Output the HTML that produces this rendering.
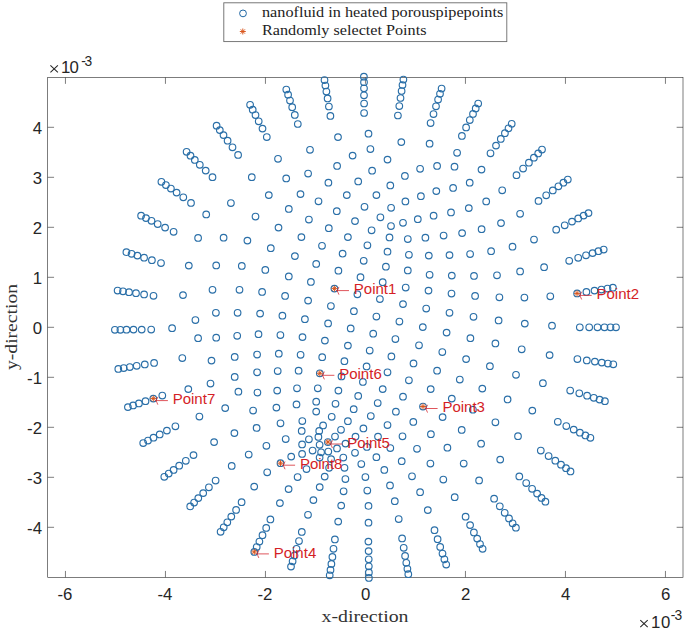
<!DOCTYPE html><html><head><meta charset="utf-8"><style>html,body{margin:0;padding:0;background:#fff;}svg{display:block}</style></head><body>
<svg width="685" height="631" viewBox="0 0 685 631">
<rect width="685" height="631" fill="#fff"/>
<g stroke="#262626" stroke-width="0.6" fill="none">
<rect x="47.7" y="77.5" width="635.3" height="499.79999999999995"/>
<line x1="65.45" y1="577.3" x2="65.45" y2="570.9499999999999"/><line x1="65.45" y1="77.5" x2="65.45" y2="83.85"/>
<line x1="165.45" y1="577.3" x2="165.45" y2="570.9499999999999"/><line x1="165.45" y1="77.5" x2="165.45" y2="83.85"/>
<line x1="265.45" y1="577.3" x2="265.45" y2="570.9499999999999"/><line x1="265.45" y1="77.5" x2="265.45" y2="83.85"/>
<line x1="365.45" y1="577.3" x2="365.45" y2="570.9499999999999"/><line x1="365.45" y1="77.5" x2="365.45" y2="83.85"/>
<line x1="465.45" y1="577.3" x2="465.45" y2="570.9499999999999"/><line x1="465.45" y1="77.5" x2="465.45" y2="83.85"/>
<line x1="565.45" y1="577.3" x2="565.45" y2="570.9499999999999"/><line x1="565.45" y1="77.5" x2="565.45" y2="83.85"/>
<line x1="665.45" y1="577.3" x2="665.45" y2="570.9499999999999"/><line x1="665.45" y1="77.5" x2="665.45" y2="83.85"/>
<line x1="47.7" y1="527.30" x2="54.050000000000004" y2="527.30"/><line x1="683.0" y1="527.30" x2="676.65" y2="527.30"/>
<line x1="47.7" y1="477.30" x2="54.050000000000004" y2="477.30"/><line x1="683.0" y1="477.30" x2="676.65" y2="477.30"/>
<line x1="47.7" y1="427.30" x2="54.050000000000004" y2="427.30"/><line x1="683.0" y1="427.30" x2="676.65" y2="427.30"/>
<line x1="47.7" y1="377.30" x2="54.050000000000004" y2="377.30"/><line x1="683.0" y1="377.30" x2="676.65" y2="377.30"/>
<line x1="47.7" y1="327.30" x2="54.050000000000004" y2="327.30"/><line x1="683.0" y1="327.30" x2="676.65" y2="327.30"/>
<line x1="47.7" y1="277.30" x2="54.050000000000004" y2="277.30"/><line x1="683.0" y1="277.30" x2="676.65" y2="277.30"/>
<line x1="47.7" y1="227.30" x2="54.050000000000004" y2="227.30"/><line x1="683.0" y1="227.30" x2="676.65" y2="227.30"/>
<line x1="47.7" y1="177.30" x2="54.050000000000004" y2="177.30"/><line x1="683.0" y1="177.30" x2="676.65" y2="177.30"/>
<line x1="47.7" y1="127.30" x2="54.050000000000004" y2="127.30"/><line x1="683.0" y1="127.30" x2="676.65" y2="127.30"/>
</g>
<g fill="none" stroke="#2a6fa8" stroke-width="1.15">
<circle cx="616.0" cy="327.3" r="3.3"/>
<circle cx="610.5" cy="327.3" r="3.3"/>
<circle cx="604.5" cy="327.3" r="3.3"/>
<circle cx="597.5" cy="327.3" r="3.3"/>
<circle cx="589.2" cy="327.3" r="3.3"/>
<circle cx="579.8" cy="327.3" r="3.3"/>
<circle cx="612.9" cy="287.7" r="3.3"/>
<circle cx="607.5" cy="288.5" r="3.3"/>
<circle cx="601.4" cy="289.5" r="3.3"/>
<circle cx="594.5" cy="290.6" r="3.3"/>
<circle cx="586.4" cy="291.9" r="3.3"/>
<circle cx="577.1" cy="293.4" r="3.3"/>
<circle cx="603.7" cy="249.5" r="3.3"/>
<circle cx="598.4" cy="251.2" r="3.3"/>
<circle cx="592.6" cy="253.1" r="3.3"/>
<circle cx="586.0" cy="255.3" r="3.3"/>
<circle cx="578.2" cy="257.8" r="3.3"/>
<circle cx="569.2" cy="260.8" r="3.3"/>
<circle cx="588.5" cy="213.1" r="3.3"/>
<circle cx="583.6" cy="215.6" r="3.3"/>
<circle cx="578.2" cy="218.4" r="3.3"/>
<circle cx="572.0" cy="221.6" r="3.3"/>
<circle cx="564.7" cy="225.3" r="3.3"/>
<circle cx="556.2" cy="229.7" r="3.3"/>
<circle cx="567.8" cy="179.5" r="3.3"/>
<circle cx="563.4" cy="182.7" r="3.3"/>
<circle cx="558.4" cy="186.3" r="3.3"/>
<circle cx="552.8" cy="190.4" r="3.3"/>
<circle cx="546.2" cy="195.3" r="3.3"/>
<circle cx="538.5" cy="200.9" r="3.3"/>
<circle cx="542.0" cy="149.5" r="3.3"/>
<circle cx="538.2" cy="153.4" r="3.3"/>
<circle cx="533.9" cy="157.7" r="3.3"/>
<circle cx="528.9" cy="162.7" r="3.3"/>
<circle cx="523.1" cy="168.5" r="3.3"/>
<circle cx="516.5" cy="175.2" r="3.3"/>
<circle cx="511.7" cy="123.8" r="3.3"/>
<circle cx="508.5" cy="128.3" r="3.3"/>
<circle cx="504.9" cy="133.2" r="3.3"/>
<circle cx="500.8" cy="138.9" r="3.3"/>
<circle cx="496.0" cy="145.6" r="3.3"/>
<circle cx="490.5" cy="153.3" r="3.3"/>
<circle cx="478.2" cy="103.5" r="3.3"/>
<circle cx="475.7" cy="108.4" r="3.3"/>
<circle cx="473.0" cy="113.9" r="3.3"/>
<circle cx="469.8" cy="120.1" r="3.3"/>
<circle cx="466.1" cy="127.4" r="3.3"/>
<circle cx="461.9" cy="135.9" r="3.3"/>
<circle cx="441.6" cy="88.6" r="3.3"/>
<circle cx="440.0" cy="93.8" r="3.3"/>
<circle cx="438.1" cy="99.6" r="3.3"/>
<circle cx="436.0" cy="106.3" r="3.3"/>
<circle cx="433.5" cy="114.1" r="3.3"/>
<circle cx="430.6" cy="123.1" r="3.3"/>
<circle cx="403.4" cy="79.6" r="3.3"/>
<circle cx="402.5" cy="85.0" r="3.3"/>
<circle cx="401.6" cy="91.0" r="3.3"/>
<circle cx="400.5" cy="98.0" r="3.3"/>
<circle cx="399.3" cy="106.1" r="3.3"/>
<circle cx="397.9" cy="115.5" r="3.3"/>
<circle cx="363.9" cy="76.7" r="3.3"/>
<circle cx="364.0" cy="82.2" r="3.3"/>
<circle cx="364.0" cy="88.3" r="3.3"/>
<circle cx="364.0" cy="95.3" r="3.3"/>
<circle cx="364.1" cy="103.5" r="3.3"/>
<circle cx="364.1" cy="113.0" r="3.3"/>
<circle cx="324.5" cy="80.1" r="3.3"/>
<circle cx="325.4" cy="85.5" r="3.3"/>
<circle cx="326.4" cy="91.5" r="3.3"/>
<circle cx="327.6" cy="98.4" r="3.3"/>
<circle cx="328.9" cy="106.5" r="3.3"/>
<circle cx="330.4" cy="115.9" r="3.3"/>
<circle cx="286.3" cy="89.5" r="3.3"/>
<circle cx="288.1" cy="94.7" r="3.3"/>
<circle cx="290.0" cy="100.5" r="3.3"/>
<circle cx="292.2" cy="107.2" r="3.3"/>
<circle cx="294.8" cy="114.9" r="3.3"/>
<circle cx="297.8" cy="124.0" r="3.3"/>
<circle cx="250.1" cy="104.8" r="3.3"/>
<circle cx="252.7" cy="109.7" r="3.3"/>
<circle cx="255.5" cy="115.1" r="3.3"/>
<circle cx="258.7" cy="121.3" r="3.3"/>
<circle cx="262.5" cy="128.6" r="3.3"/>
<circle cx="266.8" cy="137.0" r="3.3"/>
<circle cx="216.6" cy="125.7" r="3.3"/>
<circle cx="219.8" cy="130.1" r="3.3"/>
<circle cx="223.5" cy="135.1" r="3.3"/>
<circle cx="227.6" cy="140.7" r="3.3"/>
<circle cx="232.5" cy="147.3" r="3.3"/>
<circle cx="238.1" cy="154.9" r="3.3"/>
<circle cx="186.6" cy="151.8" r="3.3"/>
<circle cx="190.5" cy="155.7" r="3.3"/>
<circle cx="194.8" cy="159.9" r="3.3"/>
<circle cx="199.8" cy="164.8" r="3.3"/>
<circle cx="205.7" cy="170.6" r="3.3"/>
<circle cx="212.5" cy="177.2" r="3.3"/>
<circle cx="161.4" cy="181.8" r="3.3"/>
<circle cx="165.9" cy="185.0" r="3.3"/>
<circle cx="170.9" cy="188.5" r="3.3"/>
<circle cx="176.6" cy="192.6" r="3.3"/>
<circle cx="183.3" cy="197.3" r="3.3"/>
<circle cx="191.0" cy="202.9" r="3.3"/>
<circle cx="141.1" cy="215.7" r="3.3"/>
<circle cx="146.0" cy="218.1" r="3.3"/>
<circle cx="151.5" cy="220.8" r="3.3"/>
<circle cx="157.7" cy="224.0" r="3.3"/>
<circle cx="165.1" cy="227.6" r="3.3"/>
<circle cx="173.6" cy="231.8" r="3.3"/>
<circle cx="126.4" cy="252.2" r="3.3"/>
<circle cx="131.6" cy="253.8" r="3.3"/>
<circle cx="137.4" cy="255.6" r="3.3"/>
<circle cx="144.1" cy="257.7" r="3.3"/>
<circle cx="151.9" cy="260.2" r="3.3"/>
<circle cx="161.0" cy="263.0" r="3.3"/>
<circle cx="117.6" cy="290.5" r="3.3"/>
<circle cx="123.0" cy="291.3" r="3.3"/>
<circle cx="129.0" cy="292.2" r="3.3"/>
<circle cx="136.0" cy="293.2" r="3.3"/>
<circle cx="144.1" cy="294.4" r="3.3"/>
<circle cx="153.5" cy="295.8" r="3.3"/>
<circle cx="114.9" cy="329.8" r="3.3"/>
<circle cx="120.4" cy="329.8" r="3.3"/>
<circle cx="126.5" cy="329.7" r="3.3"/>
<circle cx="133.5" cy="329.6" r="3.3"/>
<circle cx="141.7" cy="329.6" r="3.3"/>
<circle cx="151.2" cy="329.5" r="3.3"/>
<circle cx="118.3" cy="368.9" r="3.3"/>
<circle cx="123.7" cy="368.0" r="3.3"/>
<circle cx="129.8" cy="367.0" r="3.3"/>
<circle cx="136.7" cy="365.8" r="3.3"/>
<circle cx="144.8" cy="364.4" r="3.3"/>
<circle cx="154.1" cy="362.9" r="3.3"/>
<circle cx="127.9" cy="407.1" r="3.3"/>
<circle cx="133.1" cy="405.4" r="3.3"/>
<circle cx="138.9" cy="403.4" r="3.3"/>
<circle cx="145.5" cy="401.2" r="3.3"/>
<circle cx="153.3" cy="398.6" r="3.3"/>
<circle cx="162.3" cy="395.5" r="3.3"/>
<circle cx="143.2" cy="443.0" r="3.3"/>
<circle cx="148.0" cy="440.5" r="3.3"/>
<circle cx="153.5" cy="437.7" r="3.3"/>
<circle cx="159.7" cy="434.4" r="3.3"/>
<circle cx="166.9" cy="430.6" r="3.3"/>
<circle cx="175.4" cy="426.3" r="3.3"/>
<circle cx="164.3" cy="476.8" r="3.3"/>
<circle cx="168.7" cy="473.5" r="3.3"/>
<circle cx="173.6" cy="469.9" r="3.3"/>
<circle cx="179.2" cy="465.7" r="3.3"/>
<circle cx="185.8" cy="460.8" r="3.3"/>
<circle cx="193.5" cy="455.1" r="3.3"/>
<circle cx="190.2" cy="506.4" r="3.3"/>
<circle cx="194.1" cy="502.5" r="3.3"/>
<circle cx="198.3" cy="498.1" r="3.3"/>
<circle cx="203.2" cy="493.1" r="3.3"/>
<circle cx="208.9" cy="487.3" r="3.3"/>
<circle cx="215.6" cy="480.5" r="3.3"/>
<circle cx="220.6" cy="531.8" r="3.3"/>
<circle cx="223.7" cy="527.3" r="3.3"/>
<circle cx="227.3" cy="522.3" r="3.3"/>
<circle cx="231.3" cy="516.6" r="3.3"/>
<circle cx="236.1" cy="509.9" r="3.3"/>
<circle cx="241.6" cy="502.2" r="3.3"/>
<circle cx="254.3" cy="551.9" r="3.3"/>
<circle cx="256.7" cy="547.0" r="3.3"/>
<circle cx="259.4" cy="541.5" r="3.3"/>
<circle cx="262.5" cy="535.2" r="3.3"/>
<circle cx="266.2" cy="527.9" r="3.3"/>
<circle cx="270.4" cy="519.4" r="3.3"/>
<circle cx="291.0" cy="566.6" r="3.3"/>
<circle cx="292.6" cy="561.3" r="3.3"/>
<circle cx="294.5" cy="555.5" r="3.3"/>
<circle cx="296.5" cy="548.8" r="3.3"/>
<circle cx="299.0" cy="541.0" r="3.3"/>
<circle cx="301.8" cy="531.9" r="3.3"/>
<circle cx="329.7" cy="575.3" r="3.3"/>
<circle cx="330.5" cy="569.9" r="3.3"/>
<circle cx="331.4" cy="563.9" r="3.3"/>
<circle cx="332.4" cy="556.9" r="3.3"/>
<circle cx="333.5" cy="548.8" r="3.3"/>
<circle cx="334.9" cy="539.4" r="3.3"/>
<circle cx="368.9" cy="577.9" r="3.3"/>
<circle cx="368.9" cy="572.4" r="3.3"/>
<circle cx="368.8" cy="566.3" r="3.3"/>
<circle cx="368.7" cy="559.3" r="3.3"/>
<circle cx="368.6" cy="551.1" r="3.3"/>
<circle cx="368.4" cy="541.6" r="3.3"/>
<circle cx="408.3" cy="574.2" r="3.3"/>
<circle cx="407.4" cy="568.8" r="3.3"/>
<circle cx="406.3" cy="562.8" r="3.3"/>
<circle cx="405.1" cy="555.9" r="3.3"/>
<circle cx="403.7" cy="547.8" r="3.3"/>
<circle cx="402.1" cy="538.4" r="3.3"/>
<circle cx="446.2" cy="564.5" r="3.3"/>
<circle cx="444.4" cy="559.3" r="3.3"/>
<circle cx="442.5" cy="553.5" r="3.3"/>
<circle cx="440.2" cy="546.9" r="3.3"/>
<circle cx="437.6" cy="539.2" r="3.3"/>
<circle cx="434.5" cy="530.2" r="3.3"/>
<circle cx="482.6" cy="548.8" r="3.3"/>
<circle cx="480.0" cy="544.0" r="3.3"/>
<circle cx="477.2" cy="538.6" r="3.3"/>
<circle cx="473.9" cy="532.4" r="3.3"/>
<circle cx="470.1" cy="525.1" r="3.3"/>
<circle cx="465.6" cy="516.7" r="3.3"/>
<circle cx="515.9" cy="527.7" r="3.3"/>
<circle cx="512.6" cy="523.3" r="3.3"/>
<circle cx="509.0" cy="518.4" r="3.3"/>
<circle cx="504.7" cy="512.8" r="3.3"/>
<circle cx="499.8" cy="506.3" r="3.3"/>
<circle cx="494.1" cy="498.7" r="3.3"/>
<circle cx="545.4" cy="501.7" r="3.3"/>
<circle cx="541.5" cy="497.9" r="3.3"/>
<circle cx="537.1" cy="493.6" r="3.3"/>
<circle cx="532.1" cy="488.8" r="3.3"/>
<circle cx="526.2" cy="483.0" r="3.3"/>
<circle cx="519.3" cy="476.4" r="3.3"/>
<circle cx="570.5" cy="471.4" r="3.3"/>
<circle cx="566.0" cy="468.2" r="3.3"/>
<circle cx="561.0" cy="464.7" r="3.3"/>
<circle cx="555.3" cy="460.7" r="3.3"/>
<circle cx="548.6" cy="456.0" r="3.3"/>
<circle cx="540.8" cy="450.5" r="3.3"/>
<circle cx="590.4" cy="437.8" r="3.3"/>
<circle cx="585.4" cy="435.4" r="3.3"/>
<circle cx="579.9" cy="432.7" r="3.3"/>
<circle cx="573.7" cy="429.6" r="3.3"/>
<circle cx="566.3" cy="426.0" r="3.3"/>
<circle cx="557.8" cy="421.8" r="3.3"/>
<circle cx="604.9" cy="401.2" r="3.3"/>
<circle cx="599.6" cy="399.6" r="3.3"/>
<circle cx="593.8" cy="397.8" r="3.3"/>
<circle cx="587.1" cy="395.7" r="3.3"/>
<circle cx="579.3" cy="393.3" r="3.3"/>
<circle cx="570.2" cy="390.5" r="3.3"/>
<circle cx="613.3" cy="364.3" r="3.3"/>
<circle cx="607.9" cy="363.5" r="3.3"/>
<circle cx="601.8" cy="362.6" r="3.3"/>
<circle cx="594.9" cy="361.6" r="3.3"/>
<circle cx="586.8" cy="360.4" r="3.3"/>
<circle cx="577.4" cy="359.0" r="3.3"/>
<circle cx="278.0" cy="158.8" r="3.3"/>
<circle cx="310.0" cy="149.8" r="3.3"/>
<circle cx="308.1" cy="173.5" r="3.3"/>
<circle cx="338.0" cy="137.1" r="3.3"/>
<circle cx="368.5" cy="133.7" r="3.3"/>
<circle cx="401.3" cy="142.1" r="3.3"/>
<circle cx="370.4" cy="149.0" r="3.3"/>
<circle cx="352.6" cy="155.6" r="3.3"/>
<circle cx="387.5" cy="159.6" r="3.3"/>
<circle cx="337.1" cy="165.9" r="3.3"/>
<circle cx="372.1" cy="170.7" r="3.3"/>
<circle cx="429.6" cy="143.7" r="3.3"/>
<circle cx="457.1" cy="152.8" r="3.3"/>
<circle cx="420.1" cy="168.8" r="3.3"/>
<circle cx="437.1" cy="165.9" r="3.3"/>
<circle cx="454.5" cy="166.7" r="3.3"/>
<circle cx="481.5" cy="169.6" r="3.3"/>
<circle cx="206.2" cy="214.4" r="3.3"/>
<circle cx="198.1" cy="237.9" r="3.3"/>
<circle cx="188.8" cy="265.6" r="3.3"/>
<circle cx="251.8" cy="177.2" r="3.3"/>
<circle cx="286.2" cy="178.4" r="3.3"/>
<circle cx="268.8" cy="195.1" r="3.3"/>
<circle cx="300.5" cy="194.1" r="3.3"/>
<circle cx="230.9" cy="203.0" r="3.3"/>
<circle cx="288.8" cy="208.9" r="3.3"/>
<circle cx="255.5" cy="216.5" r="3.3"/>
<circle cx="308.9" cy="219.5" r="3.3"/>
<circle cx="278.5" cy="227.6" r="3.3"/>
<circle cx="223.6" cy="237.7" r="3.3"/>
<circle cx="247.4" cy="240.6" r="3.3"/>
<circle cx="301.4" cy="237.1" r="3.3"/>
<circle cx="270.8" cy="248.2" r="3.3"/>
<circle cx="294.9" cy="256.1" r="3.3"/>
<circle cx="216.2" cy="265.4" r="3.3"/>
<circle cx="241.8" cy="265.9" r="3.3"/>
<circle cx="265.3" cy="269.9" r="3.3"/>
<circle cx="328.4" cy="182.7" r="3.3"/>
<circle cx="358.2" cy="181.4" r="3.3"/>
<circle cx="390.3" cy="185.4" r="3.3"/>
<circle cx="404.9" cy="175.9" r="3.3"/>
<circle cx="346.8" cy="195.1" r="3.3"/>
<circle cx="376.4" cy="195.1" r="3.3"/>
<circle cx="318.5" cy="201.3" r="3.3"/>
<circle cx="405.4" cy="201.4" r="3.3"/>
<circle cx="336.8" cy="211.2" r="3.3"/>
<circle cx="364.5" cy="206.8" r="3.3"/>
<circle cx="391.1" cy="207.8" r="3.3"/>
<circle cx="355.0" cy="221.1" r="3.3"/>
<circle cx="380.4" cy="217.3" r="3.3"/>
<circle cx="403.0" cy="222.8" r="3.3"/>
<circle cx="391.0" cy="226.0" r="3.3"/>
<circle cx="328.8" cy="228.2" r="3.3"/>
<circle cx="371.6" cy="230.3" r="3.3"/>
<circle cx="347.9" cy="237.1" r="3.3"/>
<circle cx="389.5" cy="237.4" r="3.3"/>
<circle cx="407.8" cy="239.0" r="3.3"/>
<circle cx="322.0" cy="245.8" r="3.3"/>
<circle cx="367.4" cy="245.3" r="3.3"/>
<circle cx="387.5" cy="251.7" r="3.3"/>
<circle cx="342.6" cy="253.7" r="3.3"/>
<circle cx="408.9" cy="254.8" r="3.3"/>
<circle cx="363.7" cy="260.8" r="3.3"/>
<circle cx="316.2" cy="263.9" r="3.3"/>
<circle cx="385.9" cy="266.7" r="3.3"/>
<circle cx="338.4" cy="270.7" r="3.3"/>
<circle cx="407.8" cy="270.4" r="3.3"/>
<circle cx="420.9" cy="196.2" r="3.3"/>
<circle cx="436.3" cy="191.1" r="3.3"/>
<circle cx="453.1" cy="187.9" r="3.3"/>
<circle cx="469.7" cy="182.7" r="3.3"/>
<circle cx="502.2" cy="190.3" r="3.3"/>
<circle cx="486.2" cy="201.4" r="3.3"/>
<circle cx="417.8" cy="219.2" r="3.3"/>
<circle cx="433.6" cy="215.7" r="3.3"/>
<circle cx="451.0" cy="212.4" r="3.3"/>
<circle cx="468.8" cy="208.1" r="3.3"/>
<circle cx="501.0" cy="223.1" r="3.3"/>
<circle cx="481.6" cy="229.2" r="3.3"/>
<circle cx="425.4" cy="237.7" r="3.3"/>
<circle cx="443.6" cy="235.5" r="3.3"/>
<circle cx="462.1" cy="233.1" r="3.3"/>
<circle cx="512.5" cy="246.7" r="3.3"/>
<circle cx="428.8" cy="255.6" r="3.3"/>
<circle cx="449.5" cy="255.1" r="3.3"/>
<circle cx="470.1" cy="254.0" r="3.3"/>
<circle cx="491.1" cy="251.2" r="3.3"/>
<circle cx="520.1" cy="213.8" r="3.3"/>
<circle cx="534.0" cy="239.5" r="3.3"/>
<circle cx="544.1" cy="267.2" r="3.3"/>
<circle cx="520.1" cy="271.4" r="3.3"/>
<circle cx="183.0" cy="295.1" r="3.3"/>
<circle cx="212.5" cy="289.8" r="3.3"/>
<circle cx="195.4" cy="320.0" r="3.3"/>
<circle cx="172.1" cy="328.2" r="3.3"/>
<circle cx="198.1" cy="338.2" r="3.3"/>
<circle cx="182.3" cy="358.0" r="3.3"/>
<circle cx="211.5" cy="360.6" r="3.3"/>
<circle cx="288.8" cy="276.4" r="3.3"/>
<circle cx="310.9" cy="281.9" r="3.3"/>
<circle cx="239.5" cy="289.8" r="3.3"/>
<circle cx="262.1" cy="291.9" r="3.3"/>
<circle cx="285.1" cy="295.9" r="3.3"/>
<circle cx="308.1" cy="300.6" r="3.3"/>
<circle cx="215.9" cy="312.8" r="3.3"/>
<circle cx="237.6" cy="312.8" r="3.3"/>
<circle cx="260.1" cy="313.6" r="3.3"/>
<circle cx="282.4" cy="315.7" r="3.3"/>
<circle cx="304.9" cy="319.2" r="3.3"/>
<circle cx="216.2" cy="337.7" r="3.3"/>
<circle cx="237.2" cy="335.8" r="3.3"/>
<circle cx="258.5" cy="334.2" r="3.3"/>
<circle cx="280.4" cy="335.0" r="3.3"/>
<circle cx="302.5" cy="337.1" r="3.3"/>
<circle cx="234.7" cy="356.9" r="3.3"/>
<circle cx="257.1" cy="354.5" r="3.3"/>
<circle cx="278.8" cy="353.7" r="3.3"/>
<circle cx="300.6" cy="354.8" r="3.3"/>
<circle cx="257.1" cy="372.3" r="3.3"/>
<circle cx="277.7" cy="371.0" r="3.3"/>
<circle cx="298.6" cy="370.7" r="3.3"/>
<circle cx="360.5" cy="277.2" r="3.3"/>
<circle cx="382.7" cy="282.2" r="3.3"/>
<circle cx="405.7" cy="287.5" r="3.3"/>
<circle cx="334.4" cy="288.6" r="3.3"/>
<circle cx="357.4" cy="294.3" r="3.3"/>
<circle cx="379.9" cy="299.0" r="3.3"/>
<circle cx="403.0" cy="304.1" r="3.3"/>
<circle cx="330.9" cy="306.0" r="3.3"/>
<circle cx="353.9" cy="311.2" r="3.3"/>
<circle cx="376.4" cy="316.5" r="3.3"/>
<circle cx="399.4" cy="321.5" r="3.3"/>
<circle cx="328.1" cy="323.4" r="3.3"/>
<circle cx="350.7" cy="328.4" r="3.3"/>
<circle cx="373.2" cy="333.7" r="3.3"/>
<circle cx="395.4" cy="339.0" r="3.3"/>
<circle cx="324.9" cy="340.6" r="3.3"/>
<circle cx="347.9" cy="345.6" r="3.3"/>
<circle cx="369.7" cy="350.5" r="3.3"/>
<circle cx="391.4" cy="356.4" r="3.3"/>
<circle cx="322.2" cy="357.2" r="3.3"/>
<circle cx="344.4" cy="361.2" r="3.3"/>
<circle cx="366.6" cy="366.4" r="3.3"/>
<circle cx="387.5" cy="372.3" r="3.3"/>
<circle cx="413.5" cy="363.4" r="3.3"/>
<circle cx="429.6" cy="274.8" r="3.3"/>
<circle cx="451.8" cy="275.6" r="3.3"/>
<circle cx="474.0" cy="275.9" r="3.3"/>
<circle cx="497.0" cy="275.3" r="3.3"/>
<circle cx="428.5" cy="290.6" r="3.3"/>
<circle cx="451.5" cy="293.5" r="3.3"/>
<circle cx="475.1" cy="295.9" r="3.3"/>
<circle cx="499.4" cy="297.3" r="3.3"/>
<circle cx="426.2" cy="308.5" r="3.3"/>
<circle cx="449.5" cy="312.8" r="3.3"/>
<circle cx="473.5" cy="316.8" r="3.3"/>
<circle cx="498.6" cy="320.4" r="3.3"/>
<circle cx="422.8" cy="327.1" r="3.3"/>
<circle cx="446.6" cy="332.6" r="3.3"/>
<circle cx="470.4" cy="338.2" r="3.3"/>
<circle cx="495.4" cy="343.4" r="3.3"/>
<circle cx="419.0" cy="345.3" r="3.3"/>
<circle cx="442.3" cy="352.0" r="3.3"/>
<circle cx="466.1" cy="359.1" r="3.3"/>
<circle cx="489.9" cy="366.2" r="3.3"/>
<circle cx="437.1" cy="370.7" r="3.3"/>
<circle cx="524.4" cy="297.5" r="3.3"/>
<circle cx="550.3" cy="296.3" r="3.3"/>
<circle cx="524.8" cy="323.6" r="3.3"/>
<circle cx="552.0" cy="325.7" r="3.3"/>
<circle cx="521.7" cy="349.3" r="3.3"/>
<circle cx="549.6" cy="355.1" r="3.3"/>
<circle cx="516.0" cy="374.8" r="3.3"/>
<circle cx="188.3" cy="389.1" r="3.3"/>
<circle cx="210.5" cy="383.5" r="3.3"/>
<circle cx="199.4" cy="416.5" r="3.3"/>
<circle cx="214.1" cy="442.1" r="3.3"/>
<circle cx="234.7" cy="376.9" r="3.3"/>
<circle cx="238.4" cy="391.7" r="3.3"/>
<circle cx="257.4" cy="392.5" r="3.3"/>
<circle cx="277.2" cy="390.6" r="3.3"/>
<circle cx="297.0" cy="388.3" r="3.3"/>
<circle cx="225.2" cy="408.1" r="3.3"/>
<circle cx="253.1" cy="410.5" r="3.3"/>
<circle cx="276.4" cy="407.6" r="3.3"/>
<circle cx="296.5" cy="404.4" r="3.3"/>
<circle cx="256.6" cy="427.9" r="3.3"/>
<circle cx="234.4" cy="433.1" r="3.3"/>
<circle cx="266.4" cy="445.8" r="3.3"/>
<circle cx="248.7" cy="454.5" r="3.3"/>
<circle cx="231.7" cy="465.9" r="3.3"/>
<circle cx="267.2" cy="472.3" r="3.3"/>
<circle cx="341.5" cy="376.4" r="3.3"/>
<circle cx="362.9" cy="381.9" r="3.3"/>
<circle cx="408.9" cy="380.3" r="3.3"/>
<circle cx="317.8" cy="388.3" r="3.3"/>
<circle cx="338.4" cy="390.6" r="3.3"/>
<circle cx="382.7" cy="389.1" r="3.3"/>
<circle cx="358.2" cy="395.9" r="3.3"/>
<circle cx="403.0" cy="396.7" r="3.3"/>
<circle cx="316.2" cy="401.7" r="3.3"/>
<circle cx="335.5" cy="403.8" r="3.3"/>
<circle cx="377.7" cy="403.0" r="3.3"/>
<circle cx="353.7" cy="409.2" r="3.3"/>
<circle cx="316.2" cy="411.6" r="3.3"/>
<circle cx="395.9" cy="411.7" r="3.3"/>
<circle cx="331.7" cy="416.8" r="3.3"/>
<circle cx="370.8" cy="416.0" r="3.3"/>
<circle cx="347.9" cy="421.2" r="3.3"/>
<circle cx="387.5" cy="425.0" r="3.3"/>
<circle cx="413.3" cy="421.9" r="3.3"/>
<circle cx="363.4" cy="428.4" r="3.3"/>
<circle cx="402.5" cy="436.3" r="3.3"/>
<circle cx="378.0" cy="436.6" r="3.3"/>
<circle cx="355.5" cy="436.6" r="3.3"/>
<circle cx="366.9" cy="446.9" r="3.3"/>
<circle cx="390.3" cy="448.0" r="3.3"/>
<circle cx="355.0" cy="452.8" r="3.3"/>
<circle cx="376.4" cy="457.2" r="3.3"/>
<circle cx="401.7" cy="461.2" r="3.3"/>
<circle cx="361.3" cy="464.0" r="3.3"/>
<circle cx="384.3" cy="469.9" r="3.3"/>
<circle cx="459.8" cy="379.5" r="3.3"/>
<circle cx="430.7" cy="389.1" r="3.3"/>
<circle cx="482.3" cy="388.6" r="3.3"/>
<circle cx="451.8" cy="398.6" r="3.3"/>
<circle cx="507.6" cy="399.4" r="3.3"/>
<circle cx="423.0" cy="406.5" r="3.3"/>
<circle cx="472.9" cy="409.7" r="3.3"/>
<circle cx="442.6" cy="417.1" r="3.3"/>
<circle cx="495.4" cy="422.3" r="3.3"/>
<circle cx="461.7" cy="429.9" r="3.3"/>
<circle cx="430.9" cy="434.2" r="3.3"/>
<circle cx="481.1" cy="443.7" r="3.3"/>
<circle cx="417.0" cy="448.8" r="3.3"/>
<circle cx="447.4" cy="447.7" r="3.3"/>
<circle cx="500.2" cy="459.6" r="3.3"/>
<circle cx="430.4" cy="463.5" r="3.3"/>
<circle cx="463.7" cy="463.5" r="3.3"/>
<circle cx="542.9" cy="383.2" r="3.3"/>
<circle cx="532.3" cy="410.6" r="3.3"/>
<circle cx="518.0" cy="436.2" r="3.3"/>
<circle cx="254.2" cy="486.6" r="3.3"/>
<circle cx="288.6" cy="489.1" r="3.3"/>
<circle cx="279.9" cy="503.1" r="3.3"/>
<circle cx="313.4" cy="500.1" r="3.3"/>
<circle cx="308.0" cy="514.8" r="3.3"/>
<circle cx="345.4" cy="479.0" r="3.3"/>
<circle cx="365.4" cy="477.0" r="3.3"/>
<circle cx="412.0" cy="476.3" r="3.3"/>
<circle cx="319.7" cy="487.1" r="3.3"/>
<circle cx="343.6" cy="491.3" r="3.3"/>
<circle cx="367.3" cy="490.5" r="3.3"/>
<circle cx="390.0" cy="485.4" r="3.3"/>
<circle cx="341.2" cy="505.6" r="3.3"/>
<circle cx="368.5" cy="505.9" r="3.3"/>
<circle cx="394.8" cy="501.2" r="3.3"/>
<circle cx="338.2" cy="521.6" r="3.3"/>
<circle cx="368.5" cy="522.7" r="3.3"/>
<circle cx="398.7" cy="519.0" r="3.3"/>
<circle cx="443.3" cy="479.5" r="3.3"/>
<circle cx="479.1" cy="480.4" r="3.3"/>
<circle cx="420.1" cy="492.2" r="3.3"/>
<circle cx="454.7" cy="497.2" r="3.3"/>
<circle cx="427.8" cy="510.1" r="3.3"/>
<circle cx="302.3" cy="421.0" r="3.3"/>
<circle cx="280.5" cy="423.3" r="3.3"/>
<circle cx="285.7" cy="439.0" r="3.3"/>
<circle cx="291.2" cy="456.6" r="3.3"/>
<circle cx="280.5" cy="463.2" r="3.3"/>
<circle cx="297.6" cy="477.0" r="3.3"/>
<circle cx="324.7" cy="476.6" r="3.3"/>
<circle cx="323.1" cy="425.4" r="3.3"/>
<circle cx="301.7" cy="430.9" r="3.3"/>
<circle cx="319.2" cy="430.9" r="3.3"/>
<circle cx="341.0" cy="429.8" r="3.3"/>
<circle cx="318.4" cy="436.9" r="3.3"/>
<circle cx="335.0" cy="436.5" r="3.3"/>
<circle cx="308.9" cy="439.3" r="3.3"/>
<circle cx="327.9" cy="442.0" r="3.3"/>
<circle cx="302.1" cy="444.4" r="3.3"/>
<circle cx="319.6" cy="444.8" r="3.3"/>
<circle cx="312.6" cy="450.5" r="3.3"/>
<circle cx="337.0" cy="448.4" r="3.3"/>
<circle cx="302.1" cy="453.9" r="3.3"/>
<circle cx="321.1" cy="452.3" r="3.3"/>
<circle cx="328.3" cy="451.5" r="3.3"/>
<circle cx="319.6" cy="457.5" r="3.3"/>
<circle cx="331.1" cy="459.1" r="3.3"/>
<circle cx="343.3" cy="457.5" r="3.3"/>
<circle cx="329.1" cy="467.8" r="3.3"/>
<circle cx="306.5" cy="469.0" r="3.3"/>
<circle cx="345.5" cy="443.6" r="3.3"/>
<circle cx="344.5" cy="467.8" r="3.3"/>
<circle cx="319.8" cy="373.3" r="3.3"/>
</g>
<g stroke="#d95319" stroke-width="0.95"><line x1="331.40" y1="288.60" x2="337.40" y2="288.60"/><line x1="332.28" y1="286.48" x2="336.52" y2="290.72"/><line x1="334.40" y1="285.60" x2="334.40" y2="291.60"/><line x1="336.52" y1="286.48" x2="332.28" y2="290.72"/></g>
<g stroke="#d95319" stroke-width="0.95"><line x1="574.05" y1="293.41" x2="580.05" y2="293.41"/><line x1="574.93" y1="291.29" x2="579.17" y2="295.53"/><line x1="577.05" y1="290.41" x2="577.05" y2="296.41"/><line x1="579.17" y1="291.29" x2="574.93" y2="295.53"/></g>
<g stroke="#d95319" stroke-width="0.95"><line x1="420.00" y1="406.50" x2="426.00" y2="406.50"/><line x1="420.88" y1="404.38" x2="425.12" y2="408.62"/><line x1="423.00" y1="403.50" x2="423.00" y2="409.50"/><line x1="425.12" y1="404.38" x2="420.88" y2="408.62"/></g>
<g stroke="#d95319" stroke-width="0.95"><line x1="251.30" y1="551.90" x2="257.30" y2="551.90"/><line x1="252.18" y1="549.78" x2="256.42" y2="554.02"/><line x1="254.30" y1="548.90" x2="254.30" y2="554.90"/><line x1="256.42" y1="549.78" x2="252.18" y2="554.02"/></g>
<g stroke="#d95319" stroke-width="0.95"><line x1="324.90" y1="442.00" x2="330.90" y2="442.00"/><line x1="325.78" y1="439.88" x2="330.02" y2="444.12"/><line x1="327.90" y1="439.00" x2="327.90" y2="445.00"/><line x1="330.02" y1="439.88" x2="325.78" y2="444.12"/></g>
<g stroke="#d95319" stroke-width="0.95"><line x1="316.80" y1="373.30" x2="322.80" y2="373.30"/><line x1="317.68" y1="371.18" x2="321.92" y2="375.42"/><line x1="319.80" y1="370.30" x2="319.80" y2="376.30"/><line x1="321.92" y1="371.18" x2="317.68" y2="375.42"/></g>
<g stroke="#d95319" stroke-width="0.95"><line x1="150.30" y1="398.57" x2="156.30" y2="398.57"/><line x1="151.18" y1="396.45" x2="155.42" y2="400.69"/><line x1="153.30" y1="395.57" x2="153.30" y2="401.57"/><line x1="155.42" y1="396.45" x2="151.18" y2="400.69"/></g>
<g stroke="#d95319" stroke-width="0.95"><line x1="277.50" y1="463.20" x2="283.50" y2="463.20"/><line x1="278.38" y1="461.08" x2="282.62" y2="465.32"/><line x1="280.50" y1="460.20" x2="280.50" y2="466.20"/><line x1="282.62" y1="461.08" x2="278.38" y2="465.32"/></g>
<g stroke="#d41e26" stroke-width="1.0" stroke-opacity="0.75" fill="none" stroke-linecap="round"><line x1="337.2" y1="290.6" x2="348.6" y2="290.6"/><path d="M338.8,287.3 Q337.8,289.6 337.0,290.6 Q337.8,291.8 338.8,294.3"/></g>
<text x="353.8" y="294.2" font-family="Liberation Sans, sans-serif" font-size="15" fill="#d41e26">Point1</text>
<g stroke="#d41e26" stroke-width="1.0" stroke-opacity="0.75" fill="none" stroke-linecap="round"><line x1="579.9" y1="295.4" x2="591.3" y2="295.4"/><path d="M581.5,292.1 Q580.5,294.4 579.7,295.4 Q580.5,296.6 581.5,299.1"/></g>
<text x="596.5" y="299.0" font-family="Liberation Sans, sans-serif" font-size="15" fill="#d41e26">Point2</text>
<g stroke="#d41e26" stroke-width="1.0" stroke-opacity="0.75" fill="none" stroke-linecap="round"><line x1="425.8" y1="408.5" x2="437.2" y2="408.5"/><path d="M427.4,405.2 Q426.4,407.5 425.6,408.5 Q426.4,409.7 427.4,412.2"/></g>
<text x="442.4" y="412.1" font-family="Liberation Sans, sans-serif" font-size="15" fill="#d41e26">Point3</text>
<g stroke="#d41e26" stroke-width="1.0" stroke-opacity="0.75" fill="none" stroke-linecap="round"><line x1="257.1" y1="553.9" x2="268.5" y2="553.9"/><path d="M258.7,550.6 Q257.7,552.9 256.9,553.9 Q257.7,555.1 258.7,557.6"/></g>
<text x="273.7" y="557.5" font-family="Liberation Sans, sans-serif" font-size="15" fill="#d41e26">Point4</text>
<g stroke="#d41e26" stroke-width="1.0" stroke-opacity="0.75" fill="none" stroke-linecap="round"><line x1="330.7" y1="444.0" x2="342.1" y2="444.0"/><path d="M332.3,440.7 Q331.3,443.0 330.5,444.0 Q331.3,445.2 332.3,447.7"/></g>
<text x="347.3" y="447.6" font-family="Liberation Sans, sans-serif" font-size="15" fill="#d41e26">Point5</text>
<g stroke="#d41e26" stroke-width="1.0" stroke-opacity="0.75" fill="none" stroke-linecap="round"><line x1="322.6" y1="375.3" x2="334.0" y2="375.3"/><path d="M324.2,372.0 Q323.2,374.3 322.4,375.3 Q323.2,376.5 324.2,379.0"/></g>
<text x="339.2" y="378.9" font-family="Liberation Sans, sans-serif" font-size="15" fill="#d41e26">Point6</text>
<g stroke="#d41e26" stroke-width="1.0" stroke-opacity="0.75" fill="none" stroke-linecap="round"><line x1="156.1" y1="400.6" x2="167.5" y2="400.6"/><path d="M157.7,397.3 Q156.7,399.6 155.9,400.6 Q156.7,401.8 157.7,404.3"/></g>
<text x="172.7" y="404.2" font-family="Liberation Sans, sans-serif" font-size="15" fill="#d41e26">Point7</text>
<g stroke="#d41e26" stroke-width="1.0" stroke-opacity="0.75" fill="none" stroke-linecap="round"><line x1="283.3" y1="465.2" x2="294.7" y2="465.2"/><path d="M284.9,461.9 Q283.9,464.2 283.1,465.2 Q283.9,466.4 284.9,468.9"/></g>
<text x="299.9" y="468.8" font-family="Liberation Sans, sans-serif" font-size="15" fill="#d41e26">Point8</text>
<g font-family="Liberation Sans, sans-serif" font-size="16.8" fill="#262626">
<text x="64.85" y="600.3" text-anchor="middle">-6</text>
<text x="164.85" y="600.3" text-anchor="middle">-4</text>
<text x="264.85" y="600.3" text-anchor="middle">-2</text>
<text x="365.65" y="600.3" text-anchor="middle">0</text>
<text x="465.65" y="600.3" text-anchor="middle">2</text>
<text x="565.65" y="600.3" text-anchor="middle">4</text>
<text x="665.65" y="600.3" text-anchor="middle">6</text>
<text x="42" y="533.70" text-anchor="end">-4</text>
<text x="42" y="483.70" text-anchor="end">-3</text>
<text x="42" y="433.70" text-anchor="end">-2</text>
<text x="42" y="383.70" text-anchor="end">-1</text>
<text x="42" y="333.70" text-anchor="end">0</text>
<text x="42" y="283.70" text-anchor="end">1</text>
<text x="42" y="233.70" text-anchor="end">2</text>
<text x="42" y="183.70" text-anchor="end">3</text>
<text x="42" y="133.70" text-anchor="end">4</text>
<text x="61" y="73">1</text><text x="69.4" y="73">0</text><text x="81.3" y="65.8" font-size="13.8">-</text><text x="84.6" y="65.8" font-size="13.8">3</text>
<text x="651.1" y="627.6">1</text><text x="660.9" y="627.6">0</text><text x="670.8" y="619.7" font-size="13.8">-</text><text x="674.4" y="619.7" font-size="13.8">3</text>
<g stroke="#262626" stroke-width="1.05"><path d="M50.4,65.4L57.9,72.4M57.9,65.4L50.4,72.4"/><path d="M640.3,620.2L647.7,627.2M647.7,620.2L640.3,627.2"/></g>
</g>
<text x="321.5" y="621.5" font-family="Liberation Serif, serif" font-size="16" fill="#333" textLength="87" lengthAdjust="spacingAndGlyphs">x-direction</text>
<text transform="translate(16.6,370) rotate(-90)" font-family="Liberation Serif, serif" font-size="16" fill="#333" textLength="86" lengthAdjust="spacingAndGlyphs">y-direction</text>
<rect x="223.8" y="2.8" width="283" height="38.8" fill="#fff" stroke="#6a6a6a" stroke-width="0.9"/>
<circle cx="243" cy="13.4" r="3.4" fill="none" stroke="#1f66a3" stroke-width="1"/>
<g stroke="#d95319" stroke-width="0.95"><line x1="239.80" y1="31.50" x2="245.80" y2="31.50"/><line x1="240.68" y1="29.38" x2="244.92" y2="33.62"/><line x1="242.80" y1="28.50" x2="242.80" y2="34.50"/><line x1="244.92" y1="29.38" x2="240.68" y2="33.62"/></g>
<text x="262" y="17.2" font-family="Liberation Serif, serif" font-size="15" fill="#222" textLength="241.3" lengthAdjust="spacingAndGlyphs">nanofluid in heated porouspipepoints</text>
<text x="262" y="35.1" font-family="Liberation Serif, serif" font-size="15" fill="#222" textLength="164.5" lengthAdjust="spacingAndGlyphs">Randomly selectet Points</text>
</svg></body></html>
